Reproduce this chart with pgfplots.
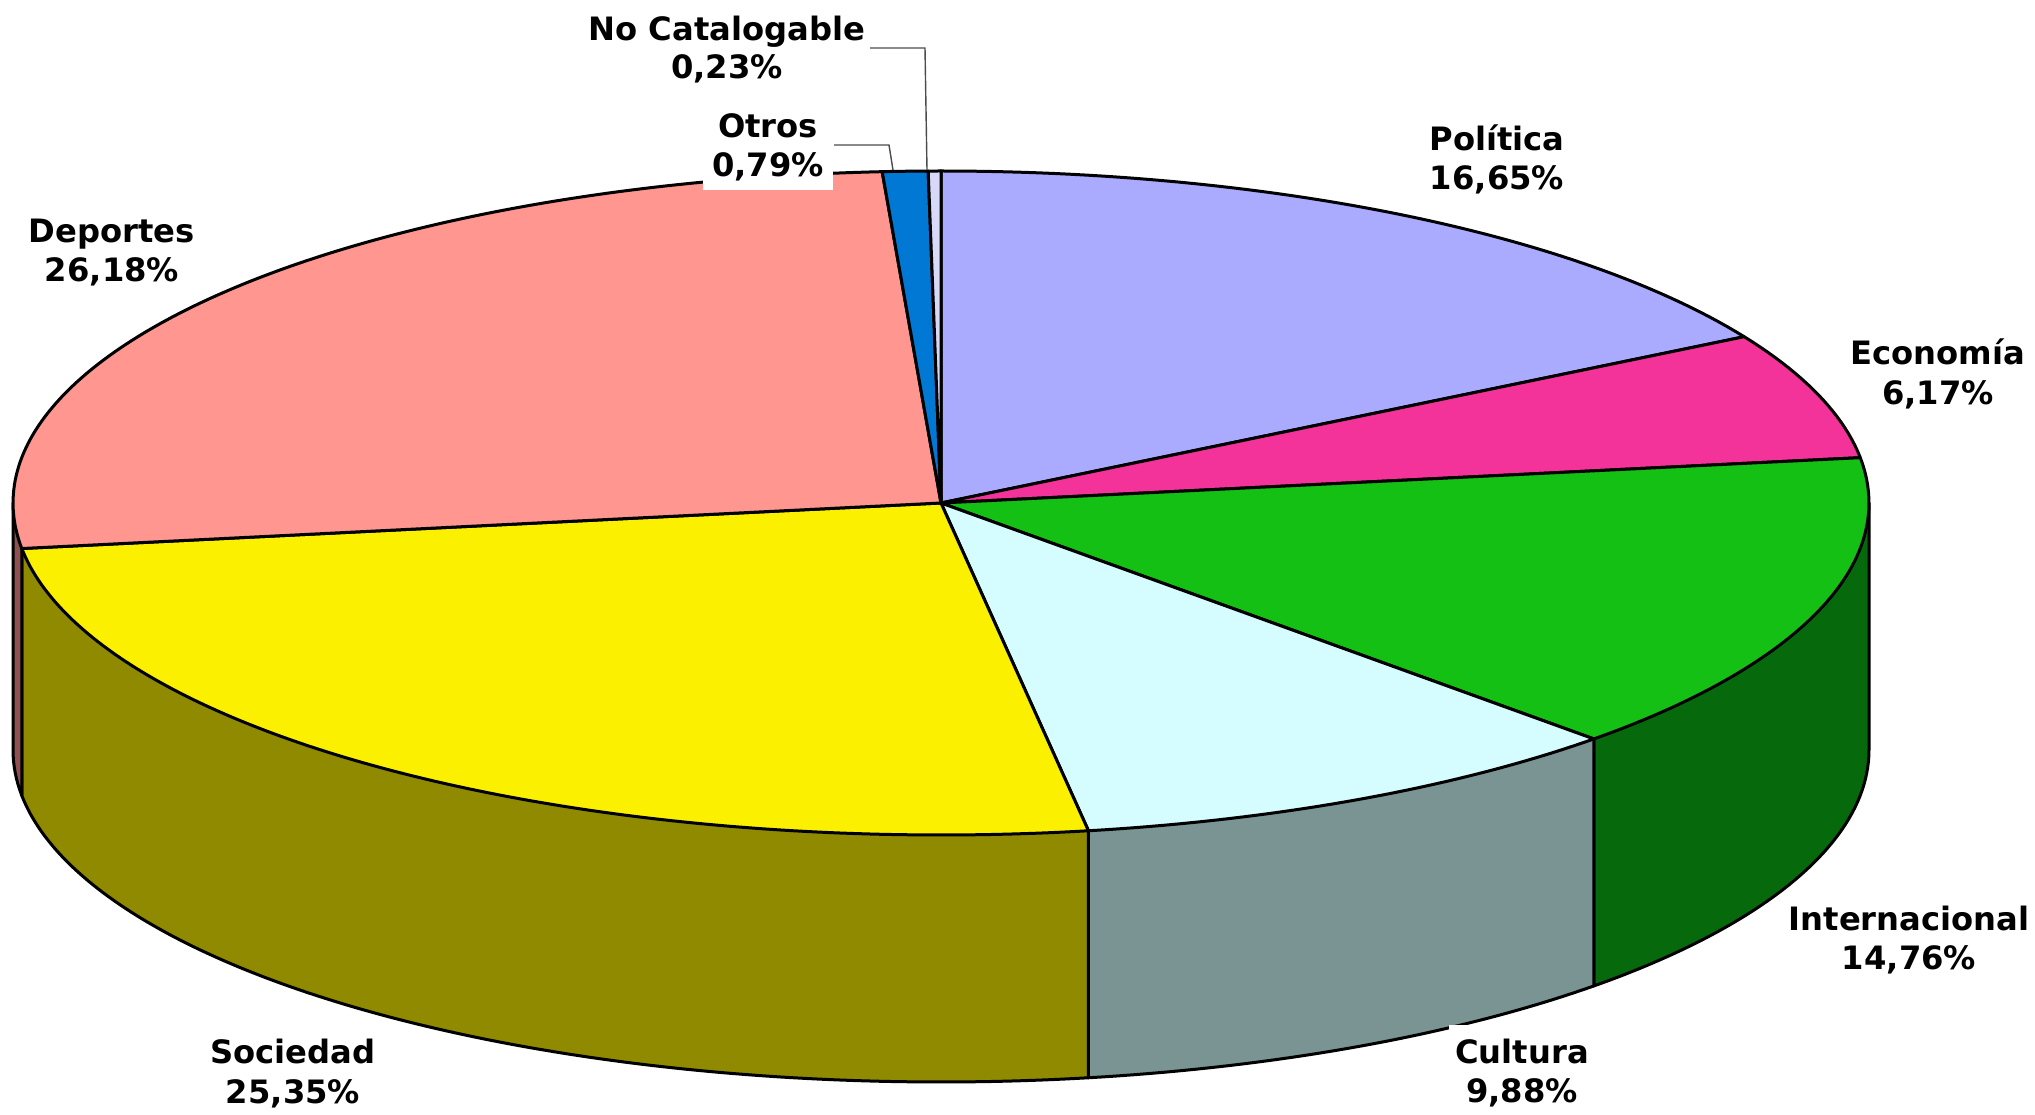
\documentclass[border=0pt]{standalone}
\usepackage{pgfplots}
\pgfplotsset{compat=1.18}
\usepackage{fontspec}
\setmainfont{DejaVu Sans}
\definecolor{cPol}{HTML}{AAAAFF}
\definecolor{cEco}{HTML}{F33399}
\definecolor{cInt}{HTML}{14C014}
\definecolor{cIntW}{HTML}{066A0C}
\definecolor{cCul}{HTML}{D5FCFF}
\definecolor{cCulW}{HTML}{7A9494}
\definecolor{cSoc}{HTML}{FAF000}
\definecolor{cSocW}{HTML}{8F8A00}
\definecolor{cDep}{HTML}{FF9690}
\definecolor{cDepW}{HTML}{8E5050}
\definecolor{cOtr}{HTML}{0078D4}
\definecolor{cNoC}{HTML}{D8D8F8}
% Percentages: Politica 16.65, Economia 6.17, Internacional 14.76, Cultura 9.88,
% Sociedad 25.35, Deportes 26.18, Otros 0.79, No Catalogable 0.23
% cumulative angles (clockwise from top, degrees) = cumulative % * 3.6
\newcommand\pietop[3]{\addplot[fill=#1, draw=black, line width=0.75pt, line join=round, domain=#2:#3, samples=120, variable=\t] ({941+928*sin(t)},{611+332*cos(t)}) -- (941,611) -- cycle;}
\newcommand\piewall[3]{\addplot[fill=#1, draw=black, line width=0.75pt, line join=round, domain=#2:#3, samples=120, variable=\t] ({941+928*sin(t)},{364+332*cos(t)}) -- ({941+928*sin(#3)},{611+332*cos(#3)}) -- ({941+928*sin(#2)},{611+332*cos(#2)}) -- cycle;}
\newcommand\labfont{\fontsize{8.05}{10}\selectfont\bfseries}
\newcommand\lab[6][]{%
  \node[font=\labfont, anchor=base, inner sep=0pt,#1] at (axis cs:#2,#3) {#5};
  \node[font=\labfont, anchor=base, inner sep=0pt] at (axis cs:#2,#4) {#6};}
\begin{document}
\begin{tikzpicture}
\begin{axis}[
  scale only axis, width=508.75pt, height=278.5pt,
  xmin=0, xmax=2035, ymin=0, ymax=1114,
  hide axis, clip=false]
\path (rel axis cs:0,0) rectangle (rel axis cs:1,1);
% side walls (front half)
\piewall{cIntW}{90}{135.288}
\piewall{cCulW}{135.288}{170.856}
\piewall{cSocW}{170.856}{262.116}
\piewall{cDepW}{262.116}{270}
% top sectors
\pietop{cPol}{0}{59.94}
\pietop{cEco}{59.94}{82.152}
\pietop{cInt}{82.152}{135.288}
\pietop{cCul}{135.288}{170.856}
\pietop{cSoc}{170.856}{262.116}
\pietop{cDep}{262.116}{356.364}
\pietop{cOtr}{356.364}{359.208}
\pietop{cNoC}{359.208}{360}
% leader lines
\addplot[draw=black!70, line width=0.35pt] coordinates {(893,944) (889,969) (834,969)};
\addplot[draw=black!70, line width=0.35pt] coordinates {(927,944) (925,1066) (870,1066)};
% labels
\lab{1497}{963}{924}{Política}{16,65\%}
\lab{1938}{749.5}{709.5}{Economía}{6,17\%}
\lab{1909}{183.5}{144.5}{Internacional}{14,76\%}
\lab[fill=white, inner xsep=1.5pt, inner ysep=3.5pt]{1522}{50.5}{11}{Cultura}{9,88\%}
\lab{293}{50.5}{10}{Sociedad}{25,35\%}
\lab{112}{871.5}{832}{Deportes}{26,18\%}
\lab{727}{1073.5}{1035}{No Catalogable}{0,23\%}
\node[font=\labfont, anchor=base, inner sep=0pt] at (axis cs:768,976.5) {Otros};
\node[font=\labfont, anchor=base, fill=white, inner xsep=2.4pt, inner ysep=3pt, text depth=0.5pt] at (axis cs:768,937.5) {0,79\%};
\end{axis}
\end{tikzpicture}
\end{document}
